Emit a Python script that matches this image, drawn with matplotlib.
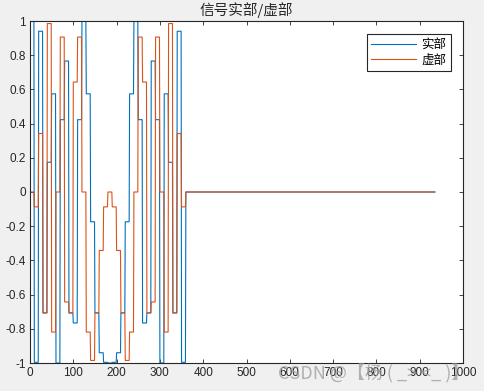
import numpy as np
import matplotlib
matplotlib.use("Agg")
import matplotlib.pyplot as plt

plt.rcParams['font.family'] = ['Liberation Sans', 'Noto Sans CJK SC', 'DejaVu Sans']

# chip values (36 chips, each held for 10 samples)
real_chips = [1.0, -0.996, 0.940, -0.707, 0.174, 0.574, -1.0, 0.423, 0.766, -0.707,
              -0.766, 0.423, 1.0, 0.574, -0.174, -0.707, -0.940, -0.996, -1.0, -0.996,
              -0.940, -0.707, -0.174, 0.574, 1.0, 0.423, -0.766, -0.707, 0.766, 0.423,
              -1.0, 0.574, 0.174, -0.707, 0.940, -0.996]
imag_chips = [0.0, -0.087, 0.342, -0.707, 0.985, -0.819, 0.0, 0.906, -0.643, -0.707,
              0.643, 0.906, 0.0, -0.819, -0.985, -0.707, -0.342, -0.087, 0.0, -0.087,
              -0.342, -0.707, -0.985, -0.819, 0.0, 0.906, 0.643, -0.707, -0.643, 0.906,
              0.0, -0.819, 0.985, -0.707, 0.342, -0.087]
samples_per_chip = 10
total_len = 936  # zero padded after the code

re = np.zeros(total_len)
im = np.zeros(total_len)
re[:len(real_chips) * samples_per_chip] = np.repeat(real_chips, samples_per_chip)
im[:len(imag_chips) * samples_per_chip] = np.repeat(imag_chips, samples_per_chip)
t = np.arange(total_len)

fig = plt.figure(figsize=(4.84, 3.91), dpi=100, facecolor='#f0f0f0')
ax = fig.add_axes([30 / 484, 28 / 391, 433 / 484, 342 / 391])

ax.plot(t, re, color='#0072BD', lw=0.8, label='实部')
ax.plot(t, im, color='#D95319', lw=0.8, label='虚部')

ax.set_xlim(0, 1000)
ax.set_ylim(-1, 1)
ax.set_xticks(np.arange(0, 1001, 100))
ax.set_yticks(np.round(np.arange(-1, 1.01, 0.2), 1))
ax.set_yticklabels(['-1', '-0.8', '-0.6', '-0.4', '-0.2', '0', '0.2', '0.4', '0.6', '0.8', '1'])
ax.tick_params(direction='in', length=3, width=0.6, top=True, right=True,
               labelsize=8.5, colors='#262626', pad=3)
for s in ax.spines.values():
    s.set_color('#262626')
    s.set_linewidth(0.8)

ax.set_title('信号实部/虚部', family=['Noto Sans CJK SC', 'DejaVu Sans'],
             fontsize=10.5, color='#262626', pad=4)

leg = ax.legend(loc='upper right', prop={'family': 'Noto Sans CJK SC', 'size': 9},
                fancybox=False, edgecolor='#262626', framealpha=1,
                handlelength=3.6, handletextpad=0.4, borderpad=0.35,
                labelspacing=0.2, borderaxespad=1.0)
leg.get_frame().set_linewidth(0.8)

fig.text(0.97, 0.045, 'CSDN @【杨 ( _> <_ )】', ha='right', va='center',
         family=['Noto Sans CJK SC', 'DejaVu Sans'], fontsize=13,
         color='#a0a0a0', alpha=0.8)

fig.savefig('out.png', dpi=100, facecolor=fig.get_facecolor())
